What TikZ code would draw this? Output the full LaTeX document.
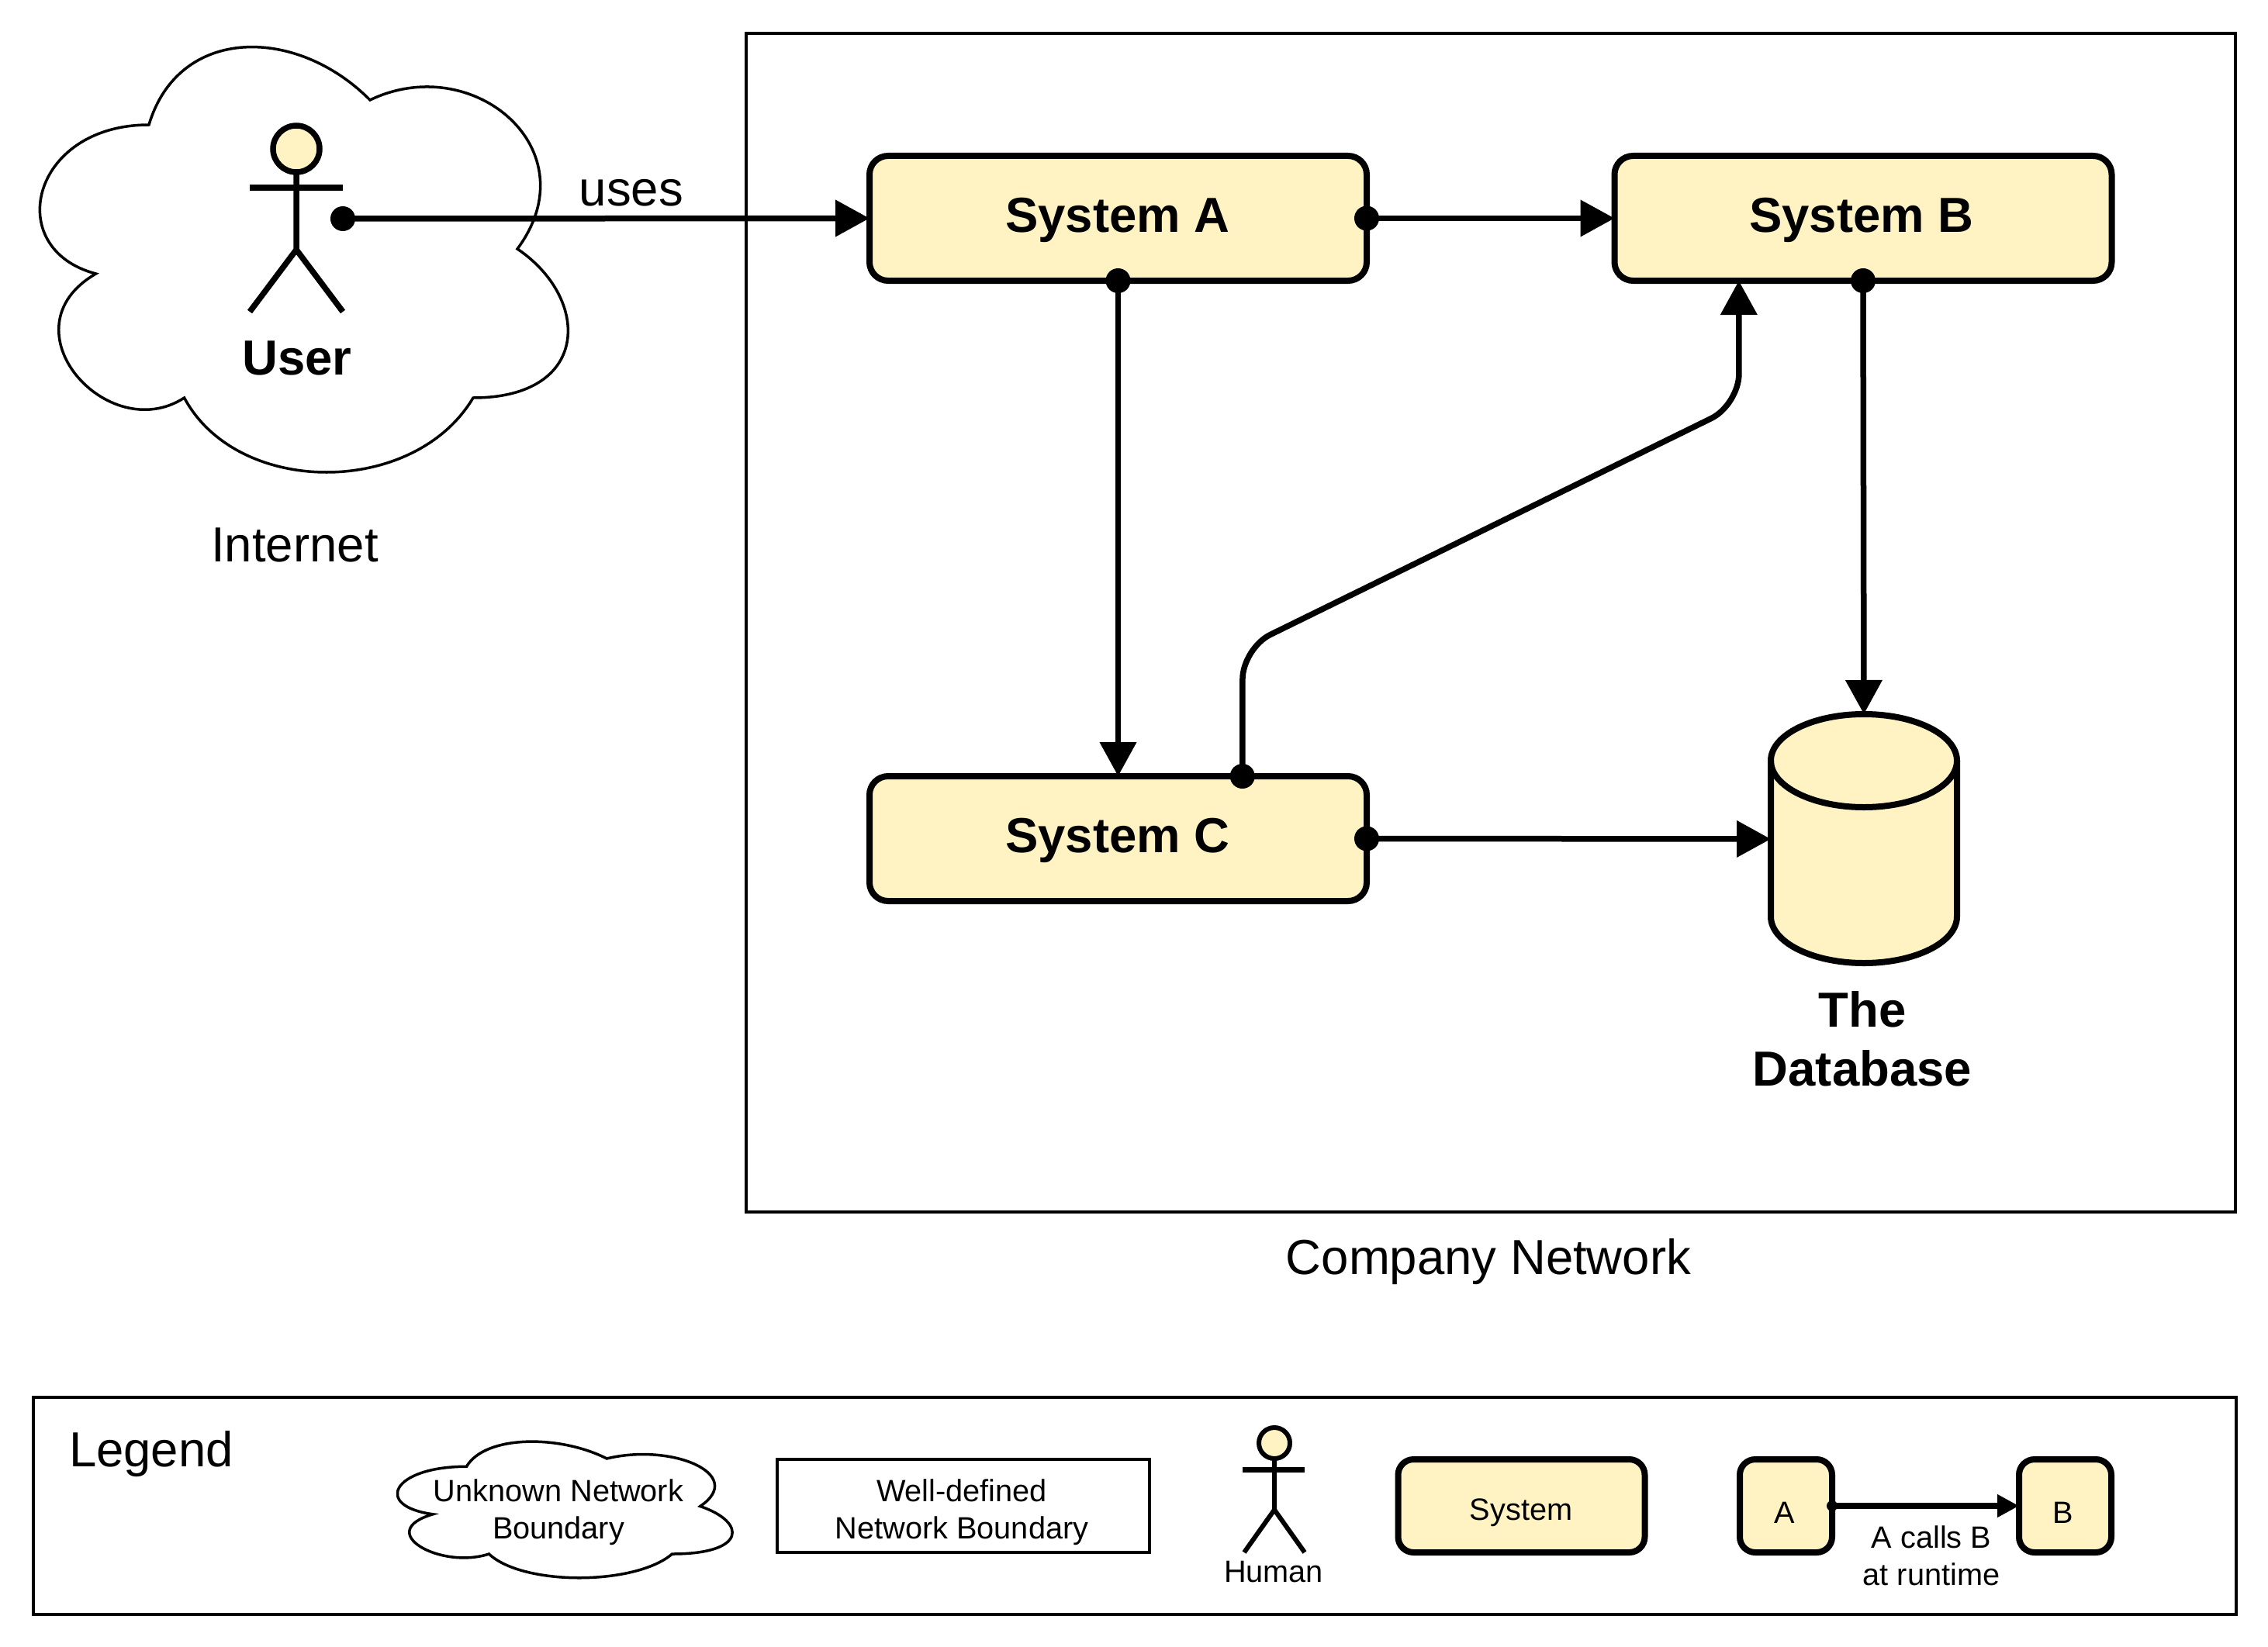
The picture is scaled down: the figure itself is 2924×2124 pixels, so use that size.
\documentclass[tikz,border=0pt]{standalone}
\usepackage{fontspec}
\setmainfont{Liberation Sans}
\usetikzlibrary{arrows.meta,calc,shapes.geometric}
\definecolor{sysfill}{HTML}{FFF3C4}
\newcommand{\bigf}{\fontsize{31.75}{38}\selectfont}
\newcommand{\smallf}{\fontsize{19.85}{24}\selectfont}
% draw.io cloud outline in unit coordinates
\newcommand{\cloudoutline}{(0.25,0.25) .. controls (0.05,0.25) and (0,0.5) .. (0.16,0.55)
  .. controls (0,0.66) and (0.18,0.9) .. (0.31,0.8)
  .. controls (0.4,1) and (0.7,1) .. (0.8,0.8)
  .. controls (1,0.8) and (1,0.6) .. (0.875,0.5)
  .. controls (1,0.3) and (0.8,0.1) .. (0.625,0.2)
  .. controls (0.5,0.05) and (0.3,0.05) .. (0.25,0.25) -- cycle}
\tikzset{
  sysbox/.style={draw=black,fill=sysfill,line width=4pt,rounded corners=12pt,inner sep=0pt,outer sep=0pt},
  plainbox/.style={draw=black,line width=2pt,inner sep=0pt,outer sep=0pt},
  conn/.style={line width=3.75pt,draw=black},
  arrowc/.style={conn,-{Triangle[length=22pt,width=23pt]}},
  dotn/.style={circle,fill=black,inner sep=0pt,minimum size=16pt},
  bigt/.style={font=\bigf,align=center,inner sep=0pt},
  bigb/.style={font=\bigf\bfseries,align=center,inner sep=0pt},
  smallt/.style={font=\smallf,align=center,inner sep=0pt},
  cloudline/.style={draw=black,line join=miter,miter limit=10,line width=1.75pt},
  limb/.style={draw=black,line width=3.75pt},
  limbs/.style={draw=black,line width=3pt},
}
\begin{document}
\begin{tikzpicture}[x=0.5pt,y=-0.5pt]
\useasboundingbox (0,0) rectangle (2924,2124);
\fill[white] (0,0) rectangle (2924,2124);

% company network
\node[plainbox,minimum width=960pt,minimum height=760pt] (net) at (1922,803) {};
\node[bigt] (netl) at (1919,1627) {Company Network};

% internet cloud
\begin{scope}[shift={(2,1)},x=380pt,y=-320pt]
\draw[cloudline] \cloudoutline;
\end{scope}
\node[bigt] (inetl) at (380,703) {Internet};

% systems
\node[sysbox,minimum width=320.5pt,minimum height=80.5pt] (a) at (1441.5,281.5) {};
\node[sysbox,minimum width=320.5pt,minimum height=80.5pt] (b) at (2402,281.5) {};
\node[sysbox,minimum width=320.5pt,minimum height=80.5pt] (c) at (1441.5,1081.5) {};
\node[bigb] (al) at (1441,284) {System A};
\node[bigb] (bl) at (2400,284) {System B};
\node[bigb] (cl) at (1441,1084) {System C};

% database
\draw[draw=black,fill=sysfill,line width=4pt] (2283,981)
  arc[start angle=180,end angle=0,x radius=60pt,y radius=30pt]
  -- (2523,1182) arc[start angle=0,end angle=-180,x radius=60pt,y radius=30pt] -- cycle;
\draw[draw=black,line width=4pt] (2283,981) arc[start angle=180,end angle=360,x radius=60pt,y radius=30pt];
\coordinate (dbtop) at (2403,921);
\coordinate (dbleft) at (2283,1082);
\node[bigb] (dbl) at (2401,1340) {The\\[0pt]Database};

% actor
\draw[limb,fill=sysfill] (382,192) circle[radius=15pt];
\draw[limb] (382,222) -- (382,322) -- (322,402);
\draw[limb] (382,322) -- (442,402);
\draw[limb,line width=4pt] (322,242) -- (442,242);
\node[bigb] (userl) at (383,462) {User};
\coordinate (u) at (442,282);

% connectors
\draw[arrowc] (u) -- (a.west);
\draw[arrowc] (a.east) -- (b.west);
\draw[arrowc] (a.south) -- (c.north);
\draw[arrowc] (b.south) -- (dbtop);
\draw[arrowc] (c.east) -- (dbleft);
\coordinate (cb1) at ($(c.north west)!0.75!(c.north east)$);
\coordinate (bb1) at ($(b.south west)!0.25!(b.south east)$);
\draw[arrowc,rounded corners=20pt] (cb1) -- (1602,836) -- (2242,522) -- (bb1);
\node[dotn] (d1) at (u) {};
\node[dotn] (d2) at (a.east) {};
\node[dotn] (d3) at (a.south) {};
\node[dotn] (d4) at (b.south) {};
\node[dotn] (d5) at (c.east) {};
\node[dotn] (d6) at (cb1) {};
\node[bigt] (uses) at (814,249) {uses};

% legend
\node[plainbox,minimum width=1420pt,minimum height=140pt] (leg) at (1463,1942) {};
\node[bigt] (legl) at (195,1875) {Legend};
\begin{scope}[shift={(481,1840)},x=241pt,y=-102.5pt]
\draw[cloudline] \cloudoutline;
\end{scope}
\node[smallt] (lc) at (720,1950) {Unknown Network\\Boundary};
\node[plainbox,minimum width=240pt,minimum height=60pt] (lw) at (1242,1942) {};
\node[smallt] (lwt) at (1240,1950) {Well-defined\\Network Boundary};

% legend human
\draw[limbs,fill=sysfill] (1643,1861) circle[radius=10pt];
\draw[limbs] (1643,1881) -- (1643,1947) -- (1604,2002);
\draw[limbs] (1643,1947) -- (1682,2002);
\draw[limbs,line width=3.5pt] (1602,1895) -- (1682,1895);
\node[smallt] (lh) at (1642,2027) {Human};

% legend system
\node[sysbox,minimum width=159pt,minimum height=60pt,rounded corners=10pt] (ls) at (1961.5,1942) {};
\node[smallt] (lst) at (1961,1951) {System};
\node[sysbox,minimum width=59.5pt,minimum height=60pt,rounded corners=10pt] (la) at (2302.5,1942) {};
\node[smallt] (lat) at (2301,1951) {A};
\node[sysbox,minimum width=59.5pt,minimum height=60pt,rounded corners=10pt] (lb) at (2662.5,1942) {};
\node[smallt] (lbt) at (2660,1951) {B};
\draw[conn,-{Triangle[length=14pt,width=14pt]}] (la.east) -- (lb.west);
\node[dotn,minimum size=7pt] (ld) at (la.east) {};
\node[smallt] (lcalls) at (2490,2006) {A calls B\\at runtime};
\end{tikzpicture}
\end{document}
